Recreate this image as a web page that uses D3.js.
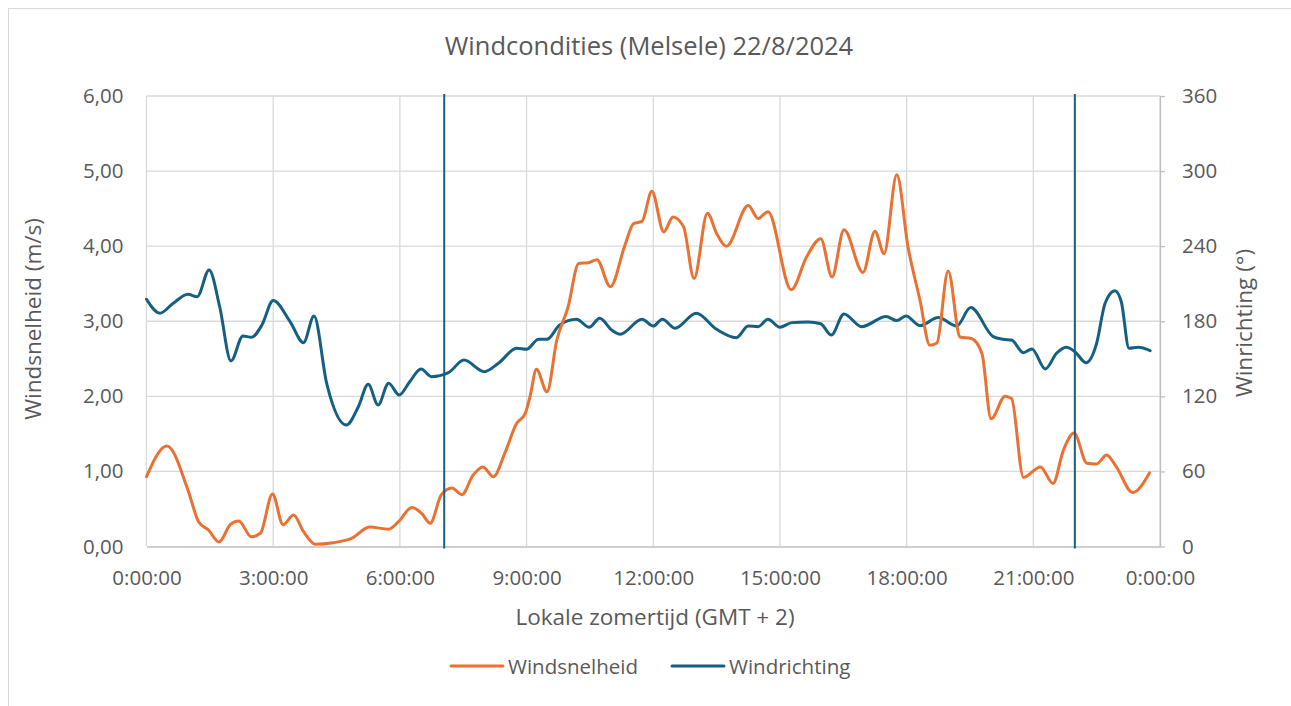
<!DOCTYPE html>
<html>
<head>
<meta charset="utf-8">
<script src="https://cdn.jsdelivr.net/npm/d3@7"></script>
<style>
  body { margin: 0; background: #fff; }
  text { font-family: "Open Sans", sans-serif; fill: #595959; }
</style>
</head>
<body>
<script>
const width = 1291
const height = 706

// Windsnelheid (m/s)
const speedTimes = ["0:00","0:29","0:59","1:14","1:28","1:43","1:59","2:11","2:29","2:42","2:59","3:14","3:29","3:43","4:00","4:25","4:52","5:17","5:44","5:58","6:17","6:31","6:43","6:59","7:14","7:28","7:44","7:58","8:13","8:29","8:46","8:58","9:05","9:14","9:29","9:43","9:59","10:14","10:28","10:40","10:59","11:20","11:32","11:44","11:58","12:15","12:28","12:43","12:58","13:17","13:30","13:44","14:15","14:29","14:43","15:16","15:38","15:58","16:14","16:31","16:58","17:15","17:28","17:46","18:02","18:19","18:33","18:43","18:59","19:16","19:32","19:47","20:00","20:20","20:29","20:46","21:10","21:28","21:43","21:58","22:16","22:30","22:44","22:58","23:21","23:45"];
const speedValues = [0.93,1.34,0.75,0.33,0.22,0.06,0.29,0.34,0.13,0.18,0.70,0.29,0.42,0.20,0.03,0.05,0.11,0.26,0.23,0.33,0.52,0.44,0.31,0.69,0.78,0.69,0.95,1.06,0.93,1.24,1.64,1.77,2.00,2.36,2.06,2.75,3.19,3.77,3.78,3.82,3.46,4.02,4.30,4.33,4.73,4.19,4.39,4.26,3.57,4.44,4.17,4.00,4.54,4.37,4.46,3.42,3.86,4.10,3.59,4.22,3.65,4.20,3.90,4.95,3.99,3.28,2.68,2.71,3.67,2.79,2.77,2.57,1.70,2.00,1.97,0.92,1.06,0.84,1.29,1.51,1.11,1.10,1.22,1.06,0.72,0.98];

// Windrichting (graden)
const dirTimes = ["0:00","0:19","0:38","0:59","1:12","1:29","1:44","2:00","2:17","2:29","2:44","3:00","3:24","3:43","3:58","4:16","4:44","5:01","5:15","5:29","5:44","5:59","6:14","6:30","6:45","7:09","7:31","8:00","8:20","8:46","9:00","9:17","9:29","9:47","10:11","10:29","10:44","11:01","11:13","11:44","12:00","12:13","12:31","13:01","13:30","13:58","14:15","14:29","14:43","15:00","15:17","15:40","15:58","16:13","16:31","16:56","17:31","17:46","17:59","18:19","18:45","19:11","19:31","20:03","20:17","20:29","20:46","20:58","21:17","21:33","21:47","21:59","22:15","22:30","22:42","22:56","23:05","23:16","23:29","23:46"];
const dirValues = [197.6,186.4,194.4,201.5,199.6,221,191.6,148.3,168.2,167.2,177,196.5,179.7,162.9,184.2,130.4,97.1,111.7,129.6,113.1,130.4,121.1,131.7,141.9,135.7,138.9,149.0,139.7,146.4,158.4,157.6,165.6,165.6,177,181.6,175.2,182.4,173,169.6,181.6,176.2,181.6,174.4,186.4,173.6,166.9,176.2,175.7,181.6,175.2,178.9,179.5,178.0,169,185.8,175.7,183.7,180.5,184.2,176.5,182.9,176.2,190.9,167.7,165.6,165,154.9,157.8,141.9,154.4,159.2,155.7,146.9,162.4,194.4,204.4,195.6,158.4,159.2,156.5];

// verticale markeringen
const markerTimes = ["7:03", "21:59"];

const xTicks = [0, 3, 6, 9, 12, 15, 18, 21, 24];

const orange = "#E97132";
const blue = "#156082";

function toHours(s) {
    const p = s.split(":");
    return +p[0] + (+p[1]) / 60;
}

const svg = d3.select("body").append("svg")
    .attr("width", width)
    .attr("height", height);

svg.append("rect")
    .attr("x", 8.5).attr("y", 8.5)
    .attr("width", width).attr("height", height)
    .attr("fill", "#fff")
    .attr("stroke", "#d9d9d9");

const x = d3.scaleLinear().domain([0, 24]).range([146.5, 1160]);
const y = d3.scaleLinear().domain([0, 6]).range([546.5, 96]);
const y2 = d3.scaleLinear().domain([0, 360]).range([546.5, 96]);

// gridlines
svg.append("g")
    .selectAll("line")
    .data(d3.range(1, 7))
    .enter().append("line")
    .attr("x1", x(0)).attr("x2", x(24))
    .attr("y1", d => y(d)).attr("y2", d => y(d))
    .attr("stroke", "#d9d9d9").attr("stroke-width", 1.3);

svg.append("g")
    .selectAll("line")
    .data(xTicks)
    .enter().append("line")
    .attr("x1", d => x(d)).attr("x2", d => x(d))
    .attr("y1", y(6)).attr("y2", y(0))
    .attr("stroke", "#d9d9d9").attr("stroke-width", 1.3);

// axes
const fmt = d => d3.format(".2f")(d).replace(".", ",");

const leftAxis = svg.append("g")
    .attr("transform", `translate(${x(0)},0)`)
    .call(d3.axisLeft(y).ticks(6).tickFormat(fmt).tickSize(0).tickPadding(23));

const rightAxis = svg.append("g")
    .attr("transform", `translate(${x(24)},0)`)
    .call(d3.axisRight(y2).tickValues(d3.range(0, 361, 60))
        .tickSizeInner(5).tickSizeOuter(0).tickPadding(17));

const bottomAxis = svg.append("g")
    .attr("transform", `translate(0,${y(0)})`)
    .call(d3.axisBottom(x).tickValues(xTicks)
        .tickFormat(d => (d % 24) + ":00:00").tickSize(0).tickPadding(24));

leftAxis.select(".domain").remove();
bottomAxis.select(".domain")
    .attr("stroke", "#bfbfbf").attr("stroke-width", 1.3);
rightAxis.select(".domain")
    .attr("stroke", "#bfbfbf").attr("stroke-width", 1.3);
rightAxis.selectAll(".tick line")
    .attr("stroke", "#bfbfbf").attr("stroke-width", 1.3);

[leftAxis, rightAxis, bottomAxis].forEach(g => {
    g.selectAll("text")
        .style("font-family", "'Open Sans', sans-serif")
        .style("font-size", "20.5px")
        .attr("fill", "#595959");
});

// lines
const speedData = speedTimes.map((t, i) => ({ t: toHours(t), v: speedValues[i] }));
const dirData = dirTimes.map((t, i) => ({ t: toHours(t), v: dirValues[i] }));

const speedLine = d3.line()
    .x(d => x(d.t)).y(d => y(d.v))
    .curve(d3.curveMonotoneX);

const dirLine = d3.line()
    .x(d => x(d.t)).y(d => y2(d.v))
    .curve(d3.curveMonotoneX);

svg.append("path")
    .datum(dirData)
    .attr("d", dirLine)
    .attr("fill", "none")
    .attr("stroke", blue)
    .attr("stroke-width", 3)
    .attr("stroke-linejoin", "round")
    .attr("stroke-linecap", "round");

svg.append("path")
    .datum(speedData)
    .attr("d", speedLine)
    .attr("fill", "none")
    .attr("stroke", orange)
    .attr("stroke-width", 3)
    .attr("stroke-linejoin", "round")
    .attr("stroke-linecap", "round");

svg.append("g")
    .selectAll("line")
    .data(markerTimes)
    .enter().append("line")
    .attr("x1", d => x(toHours(d))).attr("x2", d => x(toHours(d)))
    .attr("y1", y(6) - 2).attr("y2", y(0) + 2)
    .attr("stroke", blue).attr("stroke-width", 2);

// titles
svg.append("text")
    .attr("x", 649).attr("y", 55)
    .attr("text-anchor", "middle")
    .style("font-size", "25.5px")
    .text("Windcondities (Melsele) 22/8/2024");

svg.append("text")
    .attr("transform", "translate(41,319) rotate(-90)")
    .attr("text-anchor", "middle")
    .style("font-size", "22.5px")
    .text("Windsnelheid (m/s)");

svg.append("text")
    .attr("transform", "translate(1252,323) rotate(-90)")
    .attr("text-anchor", "middle")
    .style("font-size", "22.5px")
    .text("Winrichting (°)");

svg.append("text")
    .attr("x", 655).attr("y", 625)
    .attr("text-anchor", "middle")
    .style("font-size", "22.5px")
    .text("Lokale zomertijd (GMT + 2)");

// legend
const legend = [
    { name: "Windsnelheid", color: orange, x: 451 },
    { name: "Windrichting", color: blue, x: 672 }
];

const lg = svg.append("g").selectAll("g")
    .data(legend)
    .enter().append("g")
    .attr("transform", d => `translate(${d.x},666)`);

lg.append("line")
    .attr("x1", 0).attr("x2", 52)
    .attr("stroke", d => d.color)
    .attr("stroke-width", 3)
    .attr("stroke-linecap", "round");

lg.append("text")
    .attr("x", 57).attr("y", 7.5)
    .style("font-size", "20.5px")
    .text(d => d.name);
</script>
</body>
</html>
